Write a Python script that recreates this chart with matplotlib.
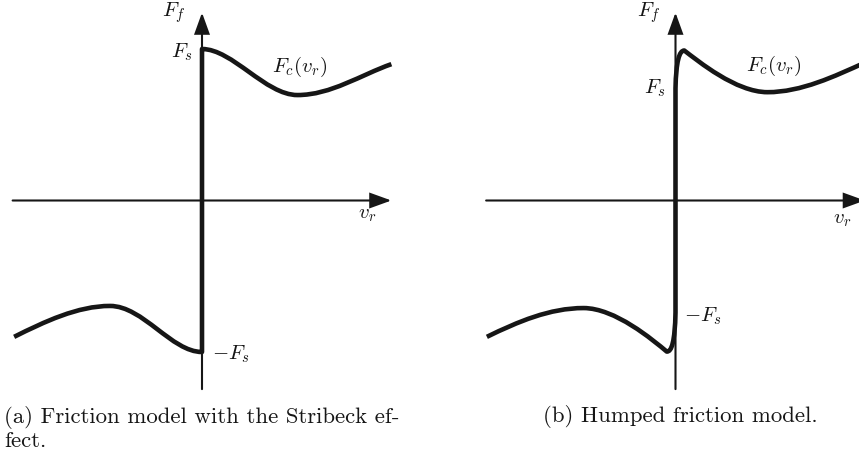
import numpy as np
import matplotlib
matplotlib.use("Agg")
import matplotlib.pyplot as plt
from matplotlib.path import Path
from matplotlib.patches import PathPatch

plt.rcParams["mathtext.fontset"] = "cm"

INK = "#161616"
W, H = 859, 455          # figure size in px
UNIT = 151.5             # px per model unit (F_s = 1 on panel a)

# axis extents (model units): horizontal -> v_r, vertical -> F_f
VR_AXIS = [-1.25, 1.25]
FF_AXIS = [-1.245, 1.24]

# panel (a): Stribeck curve, cubic Bezier nodes (v_r, F_f)
STRIB_NEG = [(-1.24, -0.90), (-1.04, -0.80), (-0.82, -0.696), (-0.607, -0.696),
             (-0.39, -0.696), (-0.20, -1.0), (0.0, -1.0)]
STRIB_POS = [(0.0, 1.0), (0.20, 1.0), (0.42, 0.696), (0.63, 0.696),
             (0.85, 0.696), (1.05, 0.83), (1.25, 0.90)]

# panel (b): humped curve, cubic Bezier nodes (v_r, F_f)
HUMP_FS = 0.74
HUMP_NEG = [(-1.245, -0.90), (-1.04, -0.80), (-0.83, -0.71), (-0.607, -0.71),
            (-0.40, -0.71), (-0.15, -0.92), (-0.058, -0.997),
            (-0.025, -1.0), (-0.004, -0.93), (0.0, -HUMP_FS)]
HUMP_POS = [(0.0, HUMP_FS), (0.004, 0.92), (0.025, 0.99), (0.058, 0.99),
            (0.15, 0.92), (0.40, 0.715), (0.607, 0.715),
            (0.83, 0.715), (1.05, 0.82), (1.25, 0.91)]

# label anchors per panel: (text, x, y, ha)
LABELS_A = [(r"$F_f$", -0.11, 1.24, "right"),
            (r"$F_s$", -0.06, 0.98, "right"),
            (r"$-F_s$", 0.066, -1.013, "left"),
            (r"$F_c(v_r)$", 0.647, 0.881, "center"),
            (r"$v_r$", 1.09, -0.09, "center")]
LABELS_B = [(r"$F_f$", -0.10, 1.24, "right"),
            (r"$F_s$", -0.066, 0.743, "right"),
            (r"$-F_s$", 0.053, -0.762, "left"),
            (r"$F_c(v_r)$", 0.647, 0.888, "center"),
            (r"$v_r$", 1.10, -0.12, "center")]

CAPTION_A = ["(a) Friction model with the Stribeck ef-", "fect."]
CAPTION_B = "(b) Humped friction model."


def bezier_path(neg, pos):
    """Negative branch, vertical jump at v_r = 0, positive branch."""
    verts = list(neg) + list(pos)
    codes = ([Path.MOVETO] + [Path.CURVE4] * (len(neg) - 1)
             + [Path.LINETO] + [Path.CURVE4] * (len(pos) - 1))
    return Path(verts, codes)


def draw_axes(ax):
    arrow = dict(arrowstyle="-|>,head_length=1.3,head_width=0.47",
                 mutation_scale=10, lw=1.5, color=INK,
                 shrinkA=0, shrinkB=0, joinstyle="miter")
    ax.annotate("", xy=(VR_AXIS[1], 0), xytext=(VR_AXIS[0], 0),
                arrowprops=arrow, annotation_clip=False)
    ax.annotate("", xy=(0, FF_AXIS[1]), xytext=(0, FF_AXIS[0]),
                arrowprops=arrow, annotation_clip=False)


def panel(fig, left_px, width_px, origin_px, curve, labels):
    ox, oy = origin_px
    ax = fig.add_axes([left_px / W, 0, width_px / W, 1])
    ax.set_xlim((left_px - ox) / UNIT, (left_px + width_px - ox) / UNIT)
    ax.set_ylim((oy - H) / UNIT, oy / UNIT)
    ax.axis("off")
    draw_axes(ax)
    ax.add_patch(PathPatch(curve, facecolor="none", edgecolor=INK, lw=3.3,
                           capstyle="butt", joinstyle="round", zorder=3,
                           clip_on=False))
    for txt, x, y, ha in labels:
        ax.text(x, y, txt, ha=ha, va="center", fontsize=15, color=INK)
    return ax


fig = plt.figure(figsize=(W / 100, H / 100), dpi=100)
fig.patch.set_facecolor("white")

panel(fig, 0, 430, (202, 200.5), bezier_path(STRIB_NEG, STRIB_POS), LABELS_A)
panel(fig, 430, 429, (675.5, 200.5), bezier_path(HUMP_NEG, HUMP_POS), LABELS_B)

cap = dict(fontsize=16.4, family="cmr10", color=INK, va="baseline", ha="left")
fig.text(4 / W, 1 - 423 / H, CAPTION_A[0], **cap)
fig.text(4 / W, 1 - 447 / H, CAPTION_A[1], **cap)
fig.text(543 / W, 1 - 422 / H, CAPTION_B, **cap)

fig.savefig("out.png", dpi=100)
